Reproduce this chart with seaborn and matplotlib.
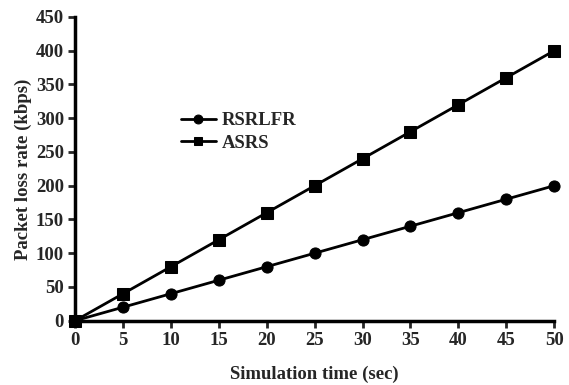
import pandas as pd
import matplotlib.pyplot as plt
import seaborn as sns

# data
sim_time = [0, 5, 10, 15, 20, 25, 30, 35, 40, 45, 50]
rsrlfr = [0, 20, 40, 60, 80, 100, 120, 140, 160, 180, 200]
asrs = [0, 40, 80, 120, 160, 200, 240, 280, 320, 360, 400]

df = pd.DataFrame({
    "time": sim_time * 2,
    "rate": rsrlfr + asrs,
    "scheme": ["RSRLFR"] * len(sim_time) + ["ASRS"] * len(sim_time),
})

sns.set_style("ticks")
plt.rcParams['font.family'] = ['Liberation Serif', 'DejaVu Serif']
plt.rcParams['font.weight'] = 'bold'

fig = plt.figure(figsize=(5.69, 3.85), dpi=100)
ax = fig.add_axes([0.132, 0.167, 0.842, 0.789])

sns.lineplot(data=df, x="time", y="rate", hue="scheme", style="scheme",
             palette={"RSRLFR": "black", "ASRS": "black"},
             markers={"RSRLFR": "o", "ASRS": "s"}, dashes=False,
             markersize=8, linewidth=2, markeredgecolor="black",
             ax=ax, clip_on=False, zorder=3)

ax.set_xlim(0, 50)
ax.set_ylim(0, 450)
ax.set_xticks(sim_time)
ax.set_yticks(range(0, 451, 50))
ax.tick_params(axis="both", labelsize=13.5, width=2, length=5, direction="out", pad=3)
for lbl in ax.get_xticklabels() + ax.get_yticklabels():
    lbl.set_fontweight("bold")
sns.despine(ax=ax)
for side in ["left", "bottom"]:
    ax.spines[side].set_linewidth(2.5)
    ax.spines[side].set_color("black")

ax.set_xlabel("Simulation time (sec)", fontsize=13.5, fontweight="bold", labelpad=12)
ax.set_ylabel("Packet loss rate (kbps)", fontsize=13.5, fontweight="bold", labelpad=3)

leg = ax.legend(loc="upper left", bbox_to_anchor=(0.22, 0.687), frameon=False,
                fontsize=13.5, handlelength=1.9, handletextpad=0.3,
                labelspacing=0.3, borderpad=0, borderaxespad=0,
                markerscale=0.8, title=None)
for t in leg.get_texts():
    t.set_fontweight("bold")

fig.savefig("out.png", dpi=100)
